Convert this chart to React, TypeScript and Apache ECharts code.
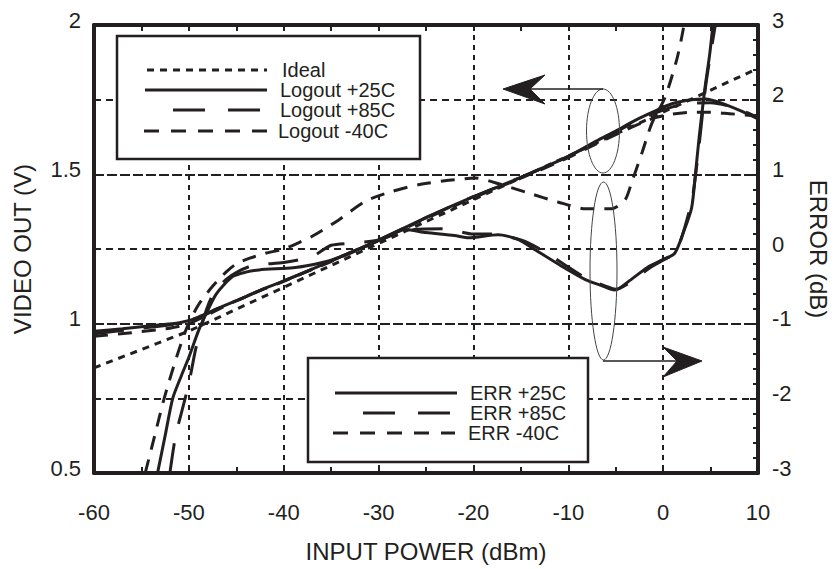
import React, { useEffect, useRef } from "react";
import * as echarts from "echarts";

const FONT = "'Liberation Sans', Arial, Helvetica, sans-serif";
const INK = "#231f20";

// Axes
const xMin = -60;
const xMax = 10;
const videoMin = 0.5;
const videoMax = 2;
const errorMin = -3;
const errorMax = 3;
const gridLevels = [0.75, 1.25, 1.75];

// Names
const xTitle = "INPUT POWER (dBm)";
const leftTitle = "VIDEO OUT (V)";
const rightTitle = "ERROR (dB)";
const idealName = "Ideal";
const logoutNames = ["Logout +25C", "Logout +85C", "Logout -40C"];
const errNames = ["ERR +25C", "ERR +85C", "ERR -40C"];

// Video out (V) vs input power (dBm)
const ideal = [[-60, 0.852], [-50, 0.975], [10, 1.855]];

const logout25 = [
  [-60, 0.975], [-57, 0.983], [-54, 0.993], [-51, 1.003], [-49, 1.02], [-47, 1.05],
  [-45, 1.077], [-42, 1.118], [-40, 1.143], [-35, 1.21], [-30, 1.28], [-25, 1.355],
  [-20, 1.425], [-15, 1.49], [-10, 1.56], [-7, 1.612], [-5, 1.645], [-3, 1.68],
  [-1, 1.71], [1, 1.737], [3, 1.75], [4.5, 1.752], [6, 1.74], [8, 1.715], [10, 1.686],
];

const logout85 = [
  [-60, 0.966], [-55, 0.985], [-51, 1.0], [-49, 1.022], [-47, 1.05],
  [-45, 1.077], [-42, 1.118], [-40, 1.143], [-35, 1.21], [-30, 1.28], [-25, 1.355],
  [-20, 1.425], [-15, 1.49], [-10, 1.56], [-7, 1.61], [-5, 1.642], [-3, 1.675],
  [-1, 1.703], [1, 1.726], [3, 1.738], [5, 1.74], [7, 1.728], [9, 1.705], [10, 1.69],
];

const logout40 = [
  [-60, 0.958], [-56, 0.97], [-52, 0.985], [-50, 1.0], [-48, 1.03], [-46, 1.062],
  [-44, 1.09], [-42, 1.117], [-40, 1.142], [-35, 1.208], [-30, 1.278], [-25, 1.352],
  [-20, 1.422], [-15, 1.487], [-10, 1.556], [-7, 1.603], [-5, 1.633], [-3, 1.662],
  [-1, 1.688], [1, 1.702], [3, 1.708], [5, 1.708], [7, 1.703], [9, 1.698], [10, 1.696],
];

// Error (dB) vs input power (dBm)
const err25 = [
  [-53.3, -3.0], [-52.5, -2.5], [-51.7, -2.0], [-50.8, -1.7], [-50, -1.45], [-49, -1.1],
  [-48.3, -0.9], [-47.1, -0.6], [-45.4, -0.37], [-44, -0.31], [-42.6, -0.28], [-39, -0.25],
  [-37, -0.21], [-35, -0.15], [-33, -0.05], [-31, 0.06], [-29, 0.17], [-27.2, 0.26],
  [-25, 0.22], [-22, 0.18], [-20.5, 0.15], [-17.4, 0.19], [-15.3, 0.13], [-13.5, -0.01],
  [-10.7, -0.23], [-8.2, -0.41], [-6.5, -0.49], [-5.1, -0.55], [-3.5, -0.42], [-1.7, -0.25],
  [0, -0.14], [1.2, -0.06], [2.1, 0.21], [3.0, 0.55], [3.4, 1.0], [3.8, 1.5], [4.4, 2.15],
  [4.9, 2.6], [5.25, 3.0],
];

const err85 = [
  [-52.0, -3.0], [-51.4, -2.5], [-50.8, -2.2], [-50, -1.8], [-49.3, -1.35], [-48.5, -0.95],
  [-47.5, -0.62], [-46, -0.4], [-43.5, -0.23], [-40, -0.18], [-37, -0.1], [-35, 0.05],
  [-32.5, 0.08], [-30, 0.12], [-27, 0.25], [-23, 0.27], [-20, 0.2], [-18, 0.2], [-15, 0.12],
  [-13, 0.0], [-10.5, -0.2], [-8, -0.4], [-6, -0.5], [-5, -0.54], [-3.5, -0.45], [-1.5, -0.26],
  [0, -0.15], [1.3, -0.05], [2.3, 0.3], [3.1, 0.7], [3.8, 1.4], [4.5, 2.2], [5.5, 3.0],
];

const err40 = [
  [-54.6, -3.0], [-53.6, -2.5], [-52.6, -2.0], [-51.3, -1.45], [-50.2, -1.05], [-49, -0.75],
  [-47.5, -0.5], [-46, -0.3], [-45, -0.2], [-43.5, -0.12], [-42, -0.06], [-40, 0.0],
  [-38.5, 0.08], [-37, 0.17], [-34.2, 0.39], [-31.4, 0.64], [-28.6, 0.77], [-25.8, 0.86],
  [-22.6, 0.92], [-19.8, 0.95], [-17, 0.86], [-14.2, 0.75], [-11.1, 0.63], [-8.2, 0.54],
  [-5.4, 0.54], [-4, 0.66], [-3.3, 0.9], [-2.2, 1.3], [-1.2, 1.68], [0.2, 2.03], [1.4, 2.52],
  [1.9, 2.8], [2.2, 3.0],
];

const DASH_IDEAL = [7, 6];
const DASH_85 = [30, 20];
const DASH_40 = [14, 10];

function mkLine(name: string, data: number[][], yAxisIndex: number, dash: any, z: number, extra: any = {}) {
  return {
    name,
    type: "line",
    data,
    xAxisIndex: 0,
    yAxisIndex,
    symbol: "none",
    showSymbol: false,
    smooth: 0.25,
    silent: true,
    clip: true,
    z,
    lineStyle: { color: INK, width: 3, type: dash, cap: "butt" },
    ...extra,
  };
}

export default function App() {
  const ref = useRef<HTMLDivElement>(null);

  useEffect(() => {
    document.body.style.margin = "0";
    if (!ref.current) return;
    const chart = echarts.init(ref.current, undefined, { renderer: "svg" });

    const axisLine = { show: true, onZero: false, lineStyle: { color: INK, width: 4 } };
    const labelStyle = { fontSize: 22, color: INK, fontFamily: FONT };
    const nameStyle = { fontSize: 24, color: INK, fontFamily: FONT };

    const txt = (x: number, y: number, text: string) => ({
      type: "text",
      x,
      y,
      z: 101,
      style: { text, fill: INK, fontSize: 20, fontFamily: FONT, verticalAlign: "middle", align: "left" },
    });
    const seg = (x1: number, x2: number, y: number, dash: any) => ({
      type: "line",
      z: 101,
      shape: { x1, y1: y, x2, y2: y },
      style: { stroke: INK, lineWidth: 3, lineDash: dash },
    });

    const option: any = {
      animation: false,
      backgroundColor: "#ffffff",
      textStyle: { fontFamily: FONT },
      grid: { left: 94, top: 25, width: 669, height: 448, containLabel: false },
      xAxis: [
        {
          type: "value",
          position: "bottom",
          min: xMin,
          max: xMax,
          interval: 10,
          axisLine,
          axisTick: { show: true, inside: true, length: 6, lineStyle: { color: INK, width: 2 } },
          minorTick: { show: true, splitNumber: 2, length: 6, lineStyle: { color: INK, width: 2 } },
          axisLabel: { ...labelStyle, margin: 28 },
          splitLine: { show: true, lineStyle: { color: INK, width: 2, type: [5, 5] } },
          name: xTitle,
          nameLocation: "middle",
          nameGap: 66,
          nameTextStyle: nameStyle,
        },
        {
          type: "value",
          position: "top",
          min: xMin,
          max: xMax,
          interval: 10,
          axisLine,
          axisTick: { show: true, inside: true, length: 6, lineStyle: { color: INK, width: 2 } },
          minorTick: { show: true, splitNumber: 2, length: 6, lineStyle: { color: INK, width: 2 } },
          axisLabel: { show: false },
          splitLine: { show: false },
        },
      ],
      yAxis: [
        {
          type: "value",
          position: "left",
          min: videoMin,
          max: videoMax,
          interval: 0.5,
          axisLine,
          axisTick: { show: false },
          axisLabel: { ...labelStyle, margin: 13, verticalAlign: "bottom", lineHeight: 10 },
          splitLine: { show: true, lineStyle: { color: INK, width: 2, type: [10, 3] } },
          name: leftTitle,
          nameLocation: "middle",
          nameGap: 60,
          nameRotate: 90,
          nameTextStyle: nameStyle,
        },
        {
          type: "value",
          position: "right",
          min: errorMin,
          max: errorMax,
          interval: 1,
          axisLine,
          axisTick: { show: true, inside: true, length: 8, lineStyle: { color: INK, width: 2 } },
          minorTick: { show: true, splitNumber: 5, length: 5, lineStyle: { color: INK, width: 2 } },
          axisLabel: { ...labelStyle, margin: 14, verticalAlign: "bottom", lineHeight: 10 },
          splitLine: { show: false },
          name: rightTitle,
          nameLocation: "middle",
          nameGap: 48,
          nameRotate: -90,
          nameTextStyle: nameStyle,
        },
      ],
      series: [
        mkLine(idealName, ideal, 0, DASH_IDEAL, 1, {
          smooth: false,
          markLine: {
            silent: true,
            symbol: "none",
            label: { show: false },
            lineStyle: { color: INK, width: 2, type: [7, 5] },
            data: gridLevels.map((v) => ({ yAxis: v })),
          },
        }),
        mkLine(logoutNames[0], logout25, 0, "solid", 3),
        mkLine(logoutNames[1], logout85, 0, DASH_85, 3),
        mkLine(logoutNames[2], logout40, 0, DASH_40, 3),
        mkLine(errNames[0], err25, 1, "solid", 3),
        mkLine(errNames[1], err85, 1, DASH_85, 3),
        mkLine(errNames[2], err40, 1, DASH_40, 3),
      ],
      graphic: [
        // upper legend
        {
          type: "rect",
          z: 100,
          shape: { x: 117, y: 36, width: 303, height: 123 },
          style: { fill: "#ffffff", stroke: INK, lineWidth: 2.5 },
        },
        seg(147, 267, 70, DASH_IDEAL),
        seg(145, 267, 90, null),
        seg(173, 262, 110, [32, 23]),
        seg(144, 267, 131, [15, 12]),
        txt(282, 70, idealName),
        txt(280, 90, logoutNames[0]),
        txt(280, 110, logoutNames[1]),
        txt(278, 131, logoutNames[2]),
        // lower legend
        {
          type: "rect",
          z: 100,
          shape: { x: 308, y: 358, width: 280, height: 104 },
          style: { fill: "#ffffff", stroke: INK, lineWidth: 2.5 },
        },
        seg(335, 457, 393, null),
        seg(363, 450, 413, [32, 23]),
        seg(333, 455, 433, [15, 12]),
        txt(470, 393, errNames[0]),
        txt(470, 413, errNames[1]),
        txt(468, 433, errNames[2]),
        // ellipses and arrows
        {
          type: "ellipse",
          z: 90,
          shape: { cx: 603, cy: 131, rx: 16.5, ry: 42 },
          style: { fill: "none", stroke: "#444", lineWidth: 1 },
        },
        {
          type: "ellipse",
          z: 90,
          shape: { cx: 603.5, cy: 271, rx: 13.5, ry: 89 },
          style: { fill: "none", stroke: "#444", lineWidth: 1 },
        },
        {
          type: "line",
          z: 90,
          shape: { x1: 603, y1: 89, x2: 528, y2: 89 },
          style: { stroke: INK, lineWidth: 1.5 },
        },
        {
          type: "polygon",
          z: 90,
          shape: { points: [[503, 89], [545, 75], [530, 89], [545, 104]] },
          style: { fill: INK, stroke: INK, lineWidth: 1 },
        },
        {
          type: "line",
          z: 90,
          shape: { x1: 603, y1: 361, x2: 679, y2: 361 },
          style: { stroke: INK, lineWidth: 1.5 },
        },
        {
          type: "polygon",
          z: 90,
          shape: { points: [[702, 361], [663, 347], [677, 361], [663, 377]] },
          style: { fill: INK, stroke: INK, lineWidth: 1 },
        },
      ],
    };

    chart.setOption(option);
    return () => chart.dispose();
  }, []);

  return <div ref={ref} style={{ width: 838, height: 569 }} />;
}
